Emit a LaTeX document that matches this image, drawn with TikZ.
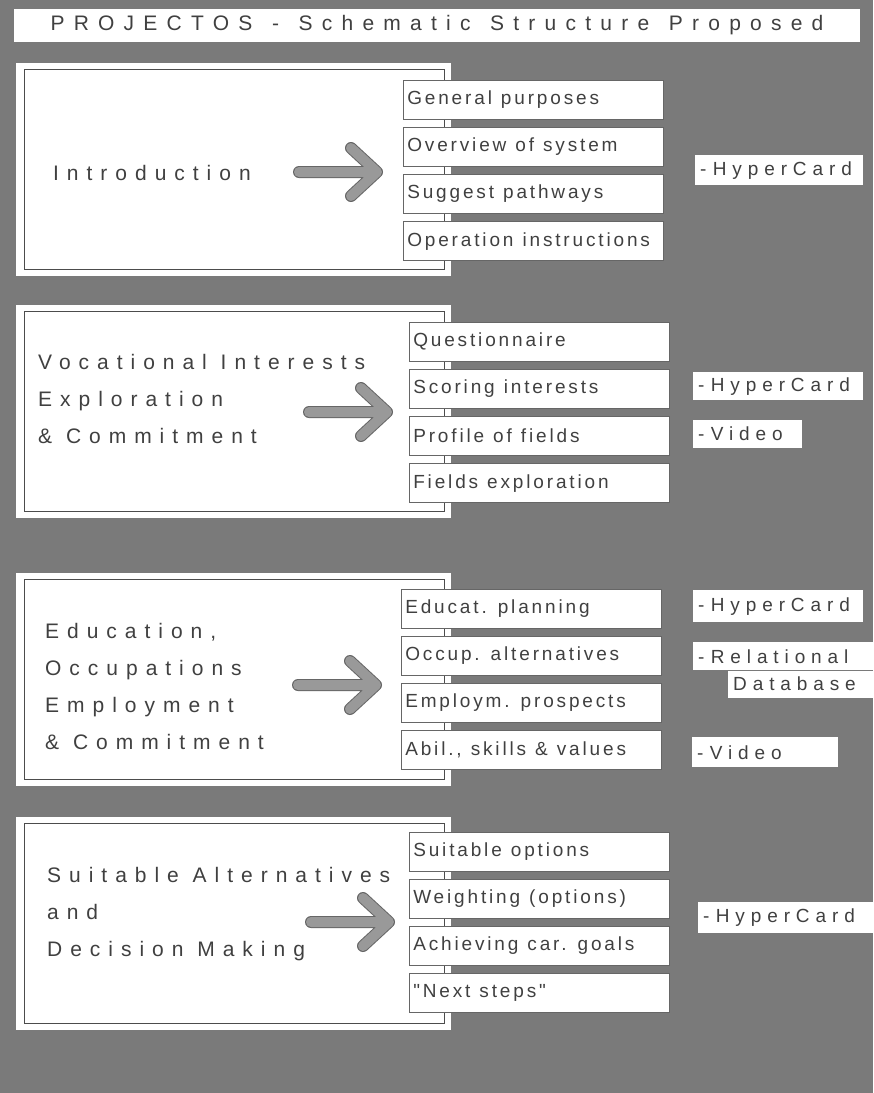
\documentclass[tikz,border=0pt]{standalone}
\usepackage{fontspec}
\setmainfont{Liberation Sans}
\newfontfamily\bannerface[LetterSpace=44,WordSpace=1.3]{Liberation Sans}
\newfontfamily\headface[LetterSpace=38]{Liberation Sans}
\newfontfamily\itemface[LetterSpace=15]{Liberation Sans}
\newfontfamily\toolface[LetterSpace=31]{Liberation Sans}
\newcommand\itemtext{\itemface\fontsize{19}{21}\selectfont\spaceskip=9pt\relax\xspaceskip=11pt\relax}
\usetikzlibrary{positioning}

\begin{document}
\begin{tikzpicture}[x=1pt,y=-1pt,
    node distance=7.5pt,
    frame/.style={fill=white,draw=white,anchor=north west,minimum width=434pt,
                  minimum height=212pt,inner sep=0pt},
    frameline/.style={draw=black!70,line width=0.8pt},
    item/.style={fill=white,draw=black!60,line width=0.6pt,anchor=north west,
                 minimum height=39pt,text width=252pt,inner xsep=4pt,align=flush left,
                 font=\itemtext,text=black!75},
    headtext/.style={align=left,anchor=west,inner sep=0pt,text=black!75,
                     font=\headface\fontsize{21}{37}\selectfont},
    tool/.style={fill=white,anchor=north west,minimum height=29pt,text width=#1,
                 inner xsep=5pt,inner ysep=0pt,align=left,text=black!75,
                 font=\toolface\fontsize{19}{21}\selectfont},
    bigarrow/.style={draw=black!60,line width=1pt,double=black!40,double distance=10pt,
                     line cap=round,line join=round}
  ]
    \fill[black!52] (0,0) rectangle (873,1093);
    \node[fill=white,minimum width=846pt,minimum height=33pt,text=black!75,
          font=\bannerface\fontsize{21}{24}\selectfont] (title) at (437,25.5)
          {PROJECTOS - Schematic Structure Proposed};

    % Introduction
    \node[frame] (box1) at (16,63) {};
    \draw[frameline] ([shift={(8pt,-6pt)}]box1.north west) rectangle ([shift={(-6pt,6pt)}]box1.south east);
    \node[item] (i11) at (403,80) {General purposes};
    \node[item,below=of i11] (i12) {Overview of system};
    \node[item,below=of i12] (i13) {Suggest pathways};
    \node[item,below=of i13] (i14) {Operation instructions};
    \node[headtext] (h1) at (53,173) {Introduction};
    \coordinate (tip1) at (377,172);
    \draw[bigarrow] ([xshift=-78pt]tip1) -- (tip1) ([shift={(-26pt,24pt)}]tip1) -- (tip1) -- ([shift={(-26pt,-24pt)}]tip1);
    \node[tool=158pt,minimum height=30pt] (t1) at (695,155) {- HyperCard};

    % Vocational interests
    \node[frame] (box2) at (16,305) {};
    \draw[frameline] ([shift={(8pt,-6pt)}]box2.north west) rectangle ([shift={(-6pt,6pt)}]box2.south east);
    \node[item] (i21) at (409,322) {Questionnaire};
    \node[item,below=of i21] (i22) {Scoring interests};
    \node[item,below=of i22] (i23) {Profile of fields};
    \node[item,below=of i23] (i24) {Fields exploration};
    \node[headtext] (h2) at (38,399) {Vocational Interests\\Exploration\\\& Commitment};
    \coordinate (tip2) at (387,412);
    \draw[bigarrow] ([xshift=-78pt]tip2) -- (tip2) ([shift={(-26pt,24pt)}]tip2) -- (tip2) -- ([shift={(-26pt,-24pt)}]tip2);
    \node[tool=160pt,minimum height=28pt] (t2a) at (693,372) {- HyperCard};
    \node[tool=99pt,minimum height=28pt] (t2b) at (693,420) {- Video};

    % Education, occupations, employment
    \node[frame] (box3) at (16,573) {};
    \draw[frameline] ([shift={(8pt,-6pt)}]box3.north west) rectangle ([shift={(-6pt,6pt)}]box3.south east);
    \node[item] (i31) at (401,589) {Educat. planning};
    \node[item,below=of i31] (i32) {Occup. alternatives};
    \node[item,below=of i32] (i33) {Employm. prospects};
    \node[item,below=of i33] (i34) {Abil., skills \& values};
    \node[headtext] (h3) at (45,686) {Education,\\Occupations\\Employment\\\& Commitment};
    \coordinate (tip3) at (376,685);
    \draw[bigarrow] ([xshift=-78pt]tip3) -- (tip3) ([shift={(-26pt,24pt)}]tip3) -- (tip3) -- ([shift={(-26pt,-24pt)}]tip3);
    \node[tool=160pt,minimum height=32pt] (t3a) at (693,590) {- HyperCard};
    \node[tool=170pt,minimum height=28pt] (t3b) at (693,642) {- Relational};
    \node[tool=135pt,minimum height=27pt,anchor=north east] (t3c) at (t3b.south east) {Database};
    \node[tool=136pt,minimum height=30pt] (t3d) at (692,737) {- Video};

    % Suitable alternatives
    \node[frame] (box4) at (16,817) {};
    \draw[frameline] ([shift={(8pt,-6pt)}]box4.north west) rectangle ([shift={(-6pt,6pt)}]box4.south east);
    \node[item] (i41) at (409,832) {Suitable options};
    \node[item,below=of i41] (i42) {Weighting (options)};
    \node[item,below=of i42] (i43) {Achieving car. goals};
    \node[item,below=of i43] (i44) {"Next steps"};
    \node[headtext] (h4) at (47,914) {Suitable Alternatives\\and\\Decision Making};
    \coordinate (tip4) at (389,922);
    \draw[bigarrow] ([xshift=-78pt]tip4) -- (tip4) ([shift={(-26pt,24pt)}]tip4) -- (tip4) -- ([shift={(-26pt,-24pt)}]tip4);
    \node[tool=165pt,minimum height=31pt] (t4) at (698,902) {- HyperCard};
\end{tikzpicture}
\end{document}
